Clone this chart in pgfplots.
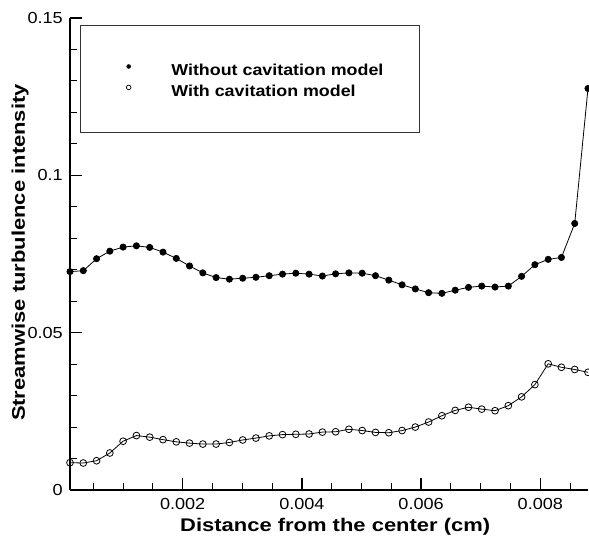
\documentclass[border=0pt]{standalone}
\usepackage{fontspec}
\setmainfont{Liberation Sans}[FakeStretch=1.13]
\newfontfamily\labelfont{Liberation Sans}[FakeStretch=1.2]
\newfontfamily\tickfont{Liberation Sans}[FakeStretch=1.13]
\usepackage{pgfplots}
\pgfplotsset{compat=1.18}
\usepackage{pgfplotstable}

\pgfplotstableread{
x        a       b
0.000110 0.0694  0.00868
0.000333 0.0697  0.00858
0.000556 0.0735  0.0093
0.000778 0.0759  0.01176
0.001001 0.0772  0.0155
0.001224 0.0776  0.0173
0.001447 0.0771  0.0168
0.001670 0.0756  0.0160
0.001893 0.0736  0.0153
0.002115 0.0712  0.0149
0.002338 0.0690  0.0146
0.002561 0.0675  0.0146
0.002784 0.0670  0.0151
0.003007 0.0673  0.0159
0.003229 0.0676  0.0165
0.003452 0.0681  0.0172
0.003675 0.0686  0.0176
0.003898 0.0689  0.0177
0.004121 0.0686  0.0178
0.004344 0.0680  0.0184
0.004566 0.0687  0.0185
0.004789 0.0690  0.0193
0.005012 0.0689  0.0189
0.005235 0.0681  0.0183
0.005458 0.0667  0.0182
0.005681 0.0652  0.0189
0.005903 0.0639  0.0200
0.006126 0.0627  0.0216
0.006349 0.0625  0.0236
0.006572 0.0635  0.0253
0.006795 0.0644  0.0263
0.007017 0.0648  0.0257
0.007240 0.0645  0.0252
0.007463 0.0648  0.0268
0.007686 0.0679  0.0296
0.007909 0.0716  0.0335
0.008132 0.0733  0.0401
0.008354 0.0739  0.0390
0.008577 0.0847  0.0383
0.008800 0.1276  0.0374
}\datatable

\newcommand{\tl}[1]{\mbox{\tickfont\fontsize{16bp}{19bp}\selectfont #1}}

\begin{document}
\begin{tikzpicture}
\useasboundingbox (-70bp,-47bp) rectangle (519bp,490bp);
\begin{axis}[
  at={(0,0)}, anchor=south west,
  scale only axis, width=518bp, height=472bp,
  xmin=0.00011, xmax=0.0088, ymin=0, ymax=0.15,
  axis x line*=bottom, axis y line*=left,
  axis line style={line width=2bp, black},
  scaled x ticks=false, scaled y ticks=false,
  xtick={0.002,0.004,0.006,0.008},
  xticklabels={\tl{0.002},\tl{0.004},\tl{0.006},\tl{0.008}},
  minor xtick={0.0005,0.001,0.0015,0.0025,0.003,0.0035,0.0045,0.005,0.0055,0.0065,0.007,0.0075,0.0085},
  ytick={0,0.05,0.1,0.15},
  yticklabels={\tl{0},\tl{0.05},\tl{0.1},\tl{0.15}},
  minor ytick={0.01,0.02,0.03,0.04,0.06,0.07,0.08,0.09,0.11,0.12,0.13,0.14},
  tick align=inside,
  major tick length=12bp, minor tick length=7bp,
  major tick style={line width=1.6bp, black},
  minor tick style={line width=1bp, black},
  tick label style={inner sep=0pt},
  xticklabel style={anchor=north, yshift=-8bp},
  yticklabel style={anchor=east, xshift=-7bp},
  xlabel={Distance from the center (cm)},
  ylabel={Streamwise turbulence intensity},
  xlabel style={at={(axis description cs:0.512,-0.0869)}, anchor=base,
    font=\labelfont\bfseries\fontsize{18.3bp}{21bp}\selectfont},
  ylabel style={at={(axis description cs:-0.0869,0.503)}, anchor=base,
    font=\labelfont\bfseries\fontsize{18.3bp}{21bp}\selectfont},
  legend style={at={(axis description cs:0.0193,0.985)}, anchor=north west,
    draw=black!80, line width=0.8bp, fill=white,
    inner xsep=36bp, inner ysep=34bp, row sep=3bp,
    font=\bfseries\fontsize{15.8bp}{18bp}\selectfont,
    nodes={inner sep=0pt},
    /tikz/every odd column/.append style={column sep=40bp}},
  legend cell align=left,
]
\addplot[black, line width=0.8bp, mark=*, mark size=3.1bp,
  mark options={solid, fill=black},
  legend image code/.code={\path[draw=none, fill=none] (-12.3bp,0bp) rectangle (0bp,11.5bp); \fill[black, draw=none] (0bp,4.5bp) circle (2.3bp);}]
  table[x=x, y=a]{\datatable};
\addlegendentry{Without cavitation model}
\addplot[black, line width=0.8bp, mark=o, mark size=3.4bp,
  mark options={solid},
  legend image code/.code={\path[draw=none, fill=none] (-12.3bp,0bp) rectangle (0bp,11.5bp); \draw[black, fill=none, line width=0.7bp] (0bp,4.5bp) circle (2.3bp);}]
  table[x=x, y=b]{\datatable};
\addlegendentry{With cavitation model}
\end{axis}
\end{tikzpicture}
\end{document}
